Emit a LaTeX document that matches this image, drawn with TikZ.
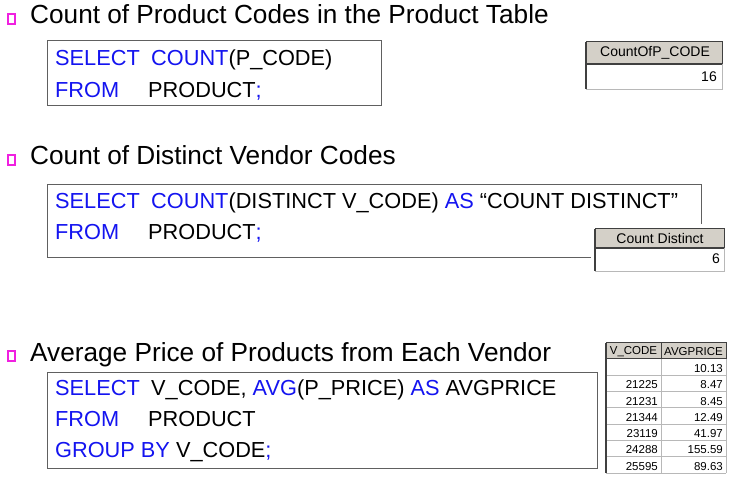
\documentclass[tikz,border=0pt]{standalone}
\usepackage{fontspec}
\setmainfont{Liberation Sans}
\definecolor{kwblue}{HTML}{1414F0}
\definecolor{boxgray}{HTML}{606060}
\definecolor{hdrfill}{HTML}{D4D0C8}
\definecolor{griddark}{HTML}{404040}
\definecolor{gridlight}{HTML}{B8B8B8}
\definecolor{bulletpink}{HTML}{F020E0}
\newcommand{\kw}[1]{\textcolor{kwblue}{#1}}
\tikzset{
  titletext/.style={anchor=base west, inner sep=0pt, font=\fontsize{26.2}{29}\selectfont},
  codetext/.style={anchor=base west, inner sep=0pt, font=\fontsize{21.75}{24}\selectfont},
  codebox/.style={draw=boxgray, line width=1pt},
  bulletbox/.style={draw=bulletpink, line width=1.6pt},
  hdrtext/.style={inner sep=0pt, font=\fontsize{14}{16}\selectfont},
  valtext/.style={anchor=base east, inner sep=0pt, font=\fontsize{14}{16}\selectfont},
  smalltext/.style={anchor=base east, inner sep=0pt, font=\fontsize{11.5}{13}\selectfont},
  darkline/.style={draw=griddark, line width=1pt},
  thickdark/.style={draw=griddark, line width=2pt},
  lightline/.style={draw=gridlight, line width=0.8pt}
}
\begin{document}
\begin{tikzpicture}[x=1pt,y=-1pt]
\useasboundingbox[fill=white] (0,0) rectangle (740,494);

% ---------- section 1 ----------
\draw[bulletbox] (8,14) rectangle (15,24);
\node[titletext] (t1) at (30,24) {Count of Product Codes in the Product Table};
\draw[codebox] (47,41) rectangle (381,106);
\node[codetext] (s1a) at (55,66) {\kw{SELECT}};
\node[codetext] (s1b) at (151,66) {\kw{COUNT}(P\_CODE)};
\node[codetext] (f1a) at (55,98) {\kw{FROM}};
\node[codetext] (f1b) at (148,98) {PRODUCT\kw{;}};

% result table 1
\fill[hdrfill] (586,42) rectangle (722,64);
\draw[darkline] (586,42) -- (722,42) -- (722,64);
\draw[thickdark] (586,64) -- (722,64);
\draw[lightline] (722,64) -- (722,89) -- (586,89);
\draw[thickdark] (586,42) -- (586,89);
\node[hdrtext] (h1) at (655,53) {CountOfP\_CODE};
\node[valtext] (v1) at (717,82) {16};

% ---------- section 2 ----------
\draw[bulletbox] (8,155) rectangle (15,165);
\node[titletext] (t2) at (30,165) {Count of Distinct Vendor Codes};
\draw[codebox] (47,185) rectangle (701,258);
\node[codetext] (s2a) at (55,209) {\kw{SELECT}};
\node[codetext] (s2b) at (151,209) {\kw{COUNT}(DISTINCT V\_CODE) \kw{AS} “COUNT DISTINCT”};
\node[codetext] (f2a) at (55,240) {\kw{FROM}};
\node[codetext] (f2b) at (148,240) {PRODUCT\kw{;}};

% result table 2
\fill[white] (591,224) rectangle (730,276);
\fill[hdrfill] (595,229) rectangle (724,248);
\draw[darkline] (595,229) -- (724,229) -- (724,248);
\draw[thickdark] (595,248) -- (724,248);
\draw[lightline] (724,248) -- (724,271) -- (595,271);
\draw[thickdark] (595,229) -- (595,271);
\node[hdrtext] (h2) at (660,238.5) {Count Distinct};
\node[valtext] (v2) at (720,264) {6};

% ---------- section 3 ----------
\draw[bulletbox] (8,351) rectangle (15,361);
\node[titletext] (t3) at (30,362) {Average Price of Products from Each Vendor};
\draw[codebox] (47,373) rectangle (597,469);
\node[codetext] (s3a) at (55,396) {\kw{SELECT}};
\node[codetext] (s3b) at (151,396) {V\_CODE, \kw{AVG}(P\_PRICE) \kw{AS} AVGPRICE};
\node[codetext] (f3a) at (55,427) {\kw{FROM}};
\node[codetext] (f3b) at (148,427) {PRODUCT};
\node[codetext] (g3) at (55,458) {\kw{GROUP BY} V\_CODE\kw{;}};

% result table 3
\fill[hdrfill] (606,343) rectangle (726,359);
\foreach \i in {1,...,7} {
  \draw[lightline] (606,{359+16.3*\i}) -- (726,{359+16.3*\i});
}
\draw[lightline] (661,359) -- (661,473.1);
\draw[lightline] (726,359) -- (726,473.1);
\draw[darkline] (606,343) -- (726,343) -- (726,359);
\draw[darkline] (661,343) -- (661,359);
\draw[darkline] (606,359) -- (726,359);
\draw[thickdark] (606,343) -- (606,473.1);
\node[hdrtext, font=\fontsize{11.5}{13}\selectfont] (h3a) at (633.5,351.5) {V\_CODE};
\node[hdrtext, font=\fontsize{11.5}{13}\selectfont] (h3b) at (693.5,351.5) {AVGPRICE};
\node[smalltext] (r0b) at (723,{359+16.3*1-2.8}) {10.13};
\node[smalltext] (r1a) at (658,{359+16.3*2-2.8}) {21225};
\node[smalltext] (r1b) at (723,{359+16.3*2-2.8}) {8.47};
\node[smalltext] (r2a) at (658,{359+16.3*3-2.8}) {21231};
\node[smalltext] (r2b) at (723,{359+16.3*3-2.8}) {8.45};
\node[smalltext] (r3a) at (658,{359+16.3*4-2.8}) {21344};
\node[smalltext] (r3b) at (723,{359+16.3*4-2.8}) {12.49};
\node[smalltext] (r4a) at (658,{359+16.3*5-2.8}) {23119};
\node[smalltext] (r4b) at (723,{359+16.3*5-2.8}) {41.97};
\node[smalltext] (r5a) at (658,{359+16.3*6-2.8}) {24288};
\node[smalltext] (r5b) at (723,{359+16.3*6-2.8}) {155.59};
\node[smalltext] (r6a) at (658,{359+16.3*7-2.8}) {25595};
\node[smalltext] (r6b) at (723,{359+16.3*7-2.8}) {89.63};
\end{tikzpicture}
\end{document}
